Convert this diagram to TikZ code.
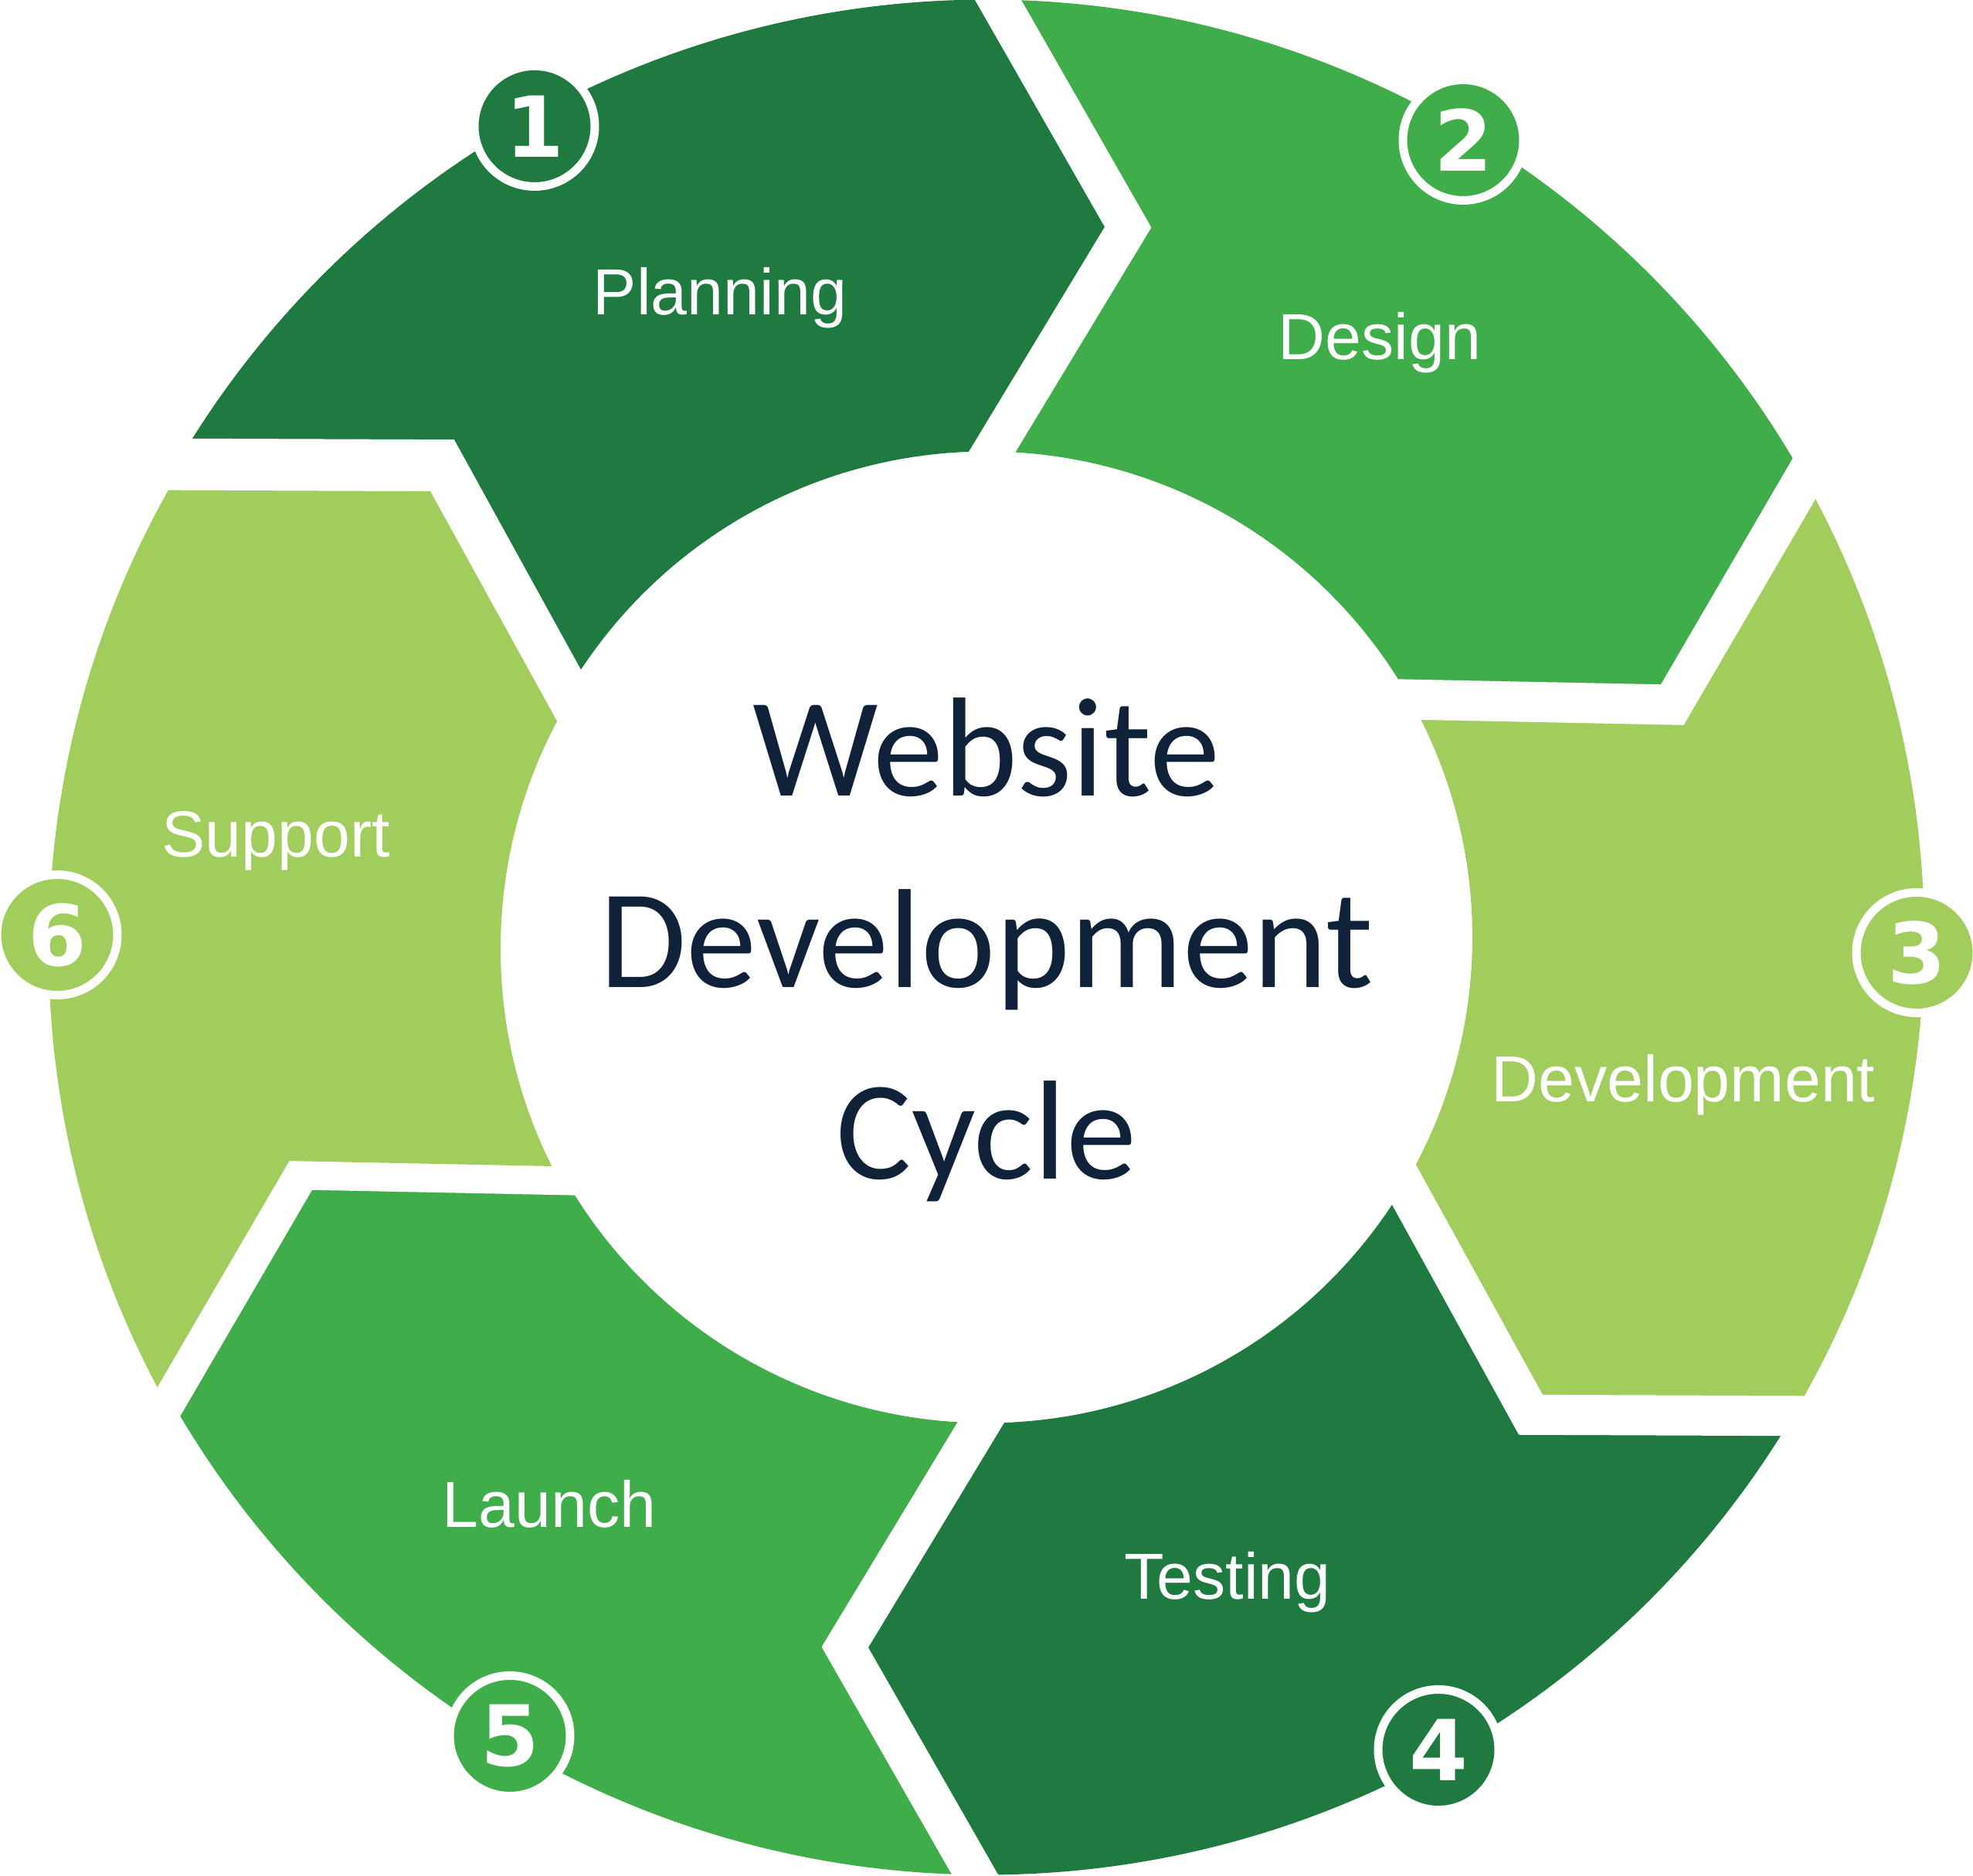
\documentclass[tikz,border=0pt]{standalone}
\usepackage{fontspec}
\setmainfont{Liberation Sans}
\newfontfamily\titlefont{Carlito}
\newfontfamily\numfont{DejaVu Sans}
\usetikzlibrary{calc}

\definecolor{plangreen}{RGB}{31,122,64}
\definecolor{designgreen}{RGB}{63,174,74}
\definecolor{devgreen}{RGB}{161,205,92}
\definecolor{titleblue}{RGB}{15,34,58}

\begin{document}
\begin{tikzpicture}[
    stage/.style={text=white, anchor=base, font=\fontsize{24pt}{28pt}\selectfont},
    headline/.style={text=titleblue, anchor=base, font=\titlefont\fontsize{52pt}{60pt}\selectfont},
    badge/.style={circle, draw=white, line width=1.1mm, minimum size=15.6mm, inner sep=0pt,
        text=white, font=\numfont\bfseries\fontsize{31pt}{36pt}\selectfont},
    gap/.style={draw=white, line width=5.2mm, miter limit=10}]
\useasboundingbox (-12.77,-12.155) rectangle (12.77,12.135);

% outer point, tip and inner point of the six borders
\coordinate (o1) at (149.3:12.14); \coordinate (t1) at ($(149.3:9.215)+(59.3:1.72)$);   \coordinate (i1) at (149.3:6.29);
\coordinate (o2) at (89.3:12.14);  \coordinate (t2) at ($(89.3:9.215)+(-0.7:1.72)$);    \coordinate (i2) at (89.3:6.29);
\coordinate (o3) at (29.3:12.14);  \coordinate (t3) at ($(29.3:9.215)+(-60.7:1.72)$);   \coordinate (i3) at (29.3:6.29);
\coordinate (o4) at (-30.7:12.14); \coordinate (t4) at ($(-30.7:9.215)+(-120.7:1.72)$); \coordinate (i4) at (-30.7:6.29);
\coordinate (o5) at (-90.7:12.14); \coordinate (t5) at ($(-90.7:9.215)+(-180.7:1.72)$); \coordinate (i5) at (-90.7:6.29);
\coordinate (o6) at (-150.7:12.14);\coordinate (t6) at ($(-150.7:9.215)+(119.3:1.72)$); \coordinate (i6) at (-150.7:6.29);

% the stages of the ring
\fill[plangreen]   (o1) arc[start angle=149.3, end angle=89.3, radius=12.14] -- (t2) -- (i2)
    arc[start angle=89.3, end angle=149.3, radius=6.29] -- (t1) -- cycle;    % planning
\fill[designgreen] (o2) arc[start angle=89.3, end angle=29.3, radius=12.14] -- (t3) -- (i3)
    arc[start angle=29.3, end angle=89.3, radius=6.29] -- (t2) -- cycle;     % design
\fill[devgreen]    (o3) arc[start angle=29.3, end angle=-30.7, radius=12.14] -- (t4) -- (i4)
    arc[start angle=-30.7, end angle=29.3, radius=6.29] -- (t3) -- cycle;    % development
\fill[plangreen]   (o4) arc[start angle=-30.7, end angle=-90.7, radius=12.14] -- (t5) -- (i5)
    arc[start angle=-90.7, end angle=-30.7, radius=6.29] -- (t4) -- cycle;   % testing
\fill[designgreen] (o5) arc[start angle=-90.7, end angle=-150.7, radius=12.14] -- (t6) -- (i6)
    arc[start angle=-150.7, end angle=-90.7, radius=6.29] -- (t5) -- cycle;  % launch

% white gaps between the stages
\draw[gap] ($(t1)!1.2!(o1)$) -- (t1) -- ($(t1)!1.2!(i1)$);
\draw[gap] ($(t2)!1.2!(o2)$) -- (t2) -- ($(t2)!1.2!(i2)$);
\draw[gap] ($(t3)!1.2!(o3)$) -- (t3) -- ($(t3)!1.2!(i3)$);
\draw[gap] ($(t4)!1.2!(o4)$) -- (t4) -- ($(t4)!1.2!(i4)$);
\draw[gap] ($(t5)!1.2!(o5)$) -- (t5) -- ($(t5)!1.2!(i5)$);
\draw[gap] ($(t6)!1.2!(o6)$) -- (t6) -- ($(t6)!1.2!(i6)$);

% support sits a little lower, so its edges are drawn on their own
\coordinate (s1o) at ($(t1)!1.5!(o1)+(239.3:0.302)+(0,-0.15)$);
\coordinate (s1t) at ($(t1)+(239.3:0.302)+(0,-0.15)$);
\coordinate (s1i) at ($(t1)!1.5!(i1)+(239.3:0.302)+(0,-0.15)$);
\coordinate (s6o) at ($(t6)!1.5!(o6)+(119.3:0.302)+(0,-0.15)$);
\coordinate (s6t) at ($(t6)+(119.3:0.302)+(0,-0.15)$);
\coordinate (s6i) at ($(t6)!1.5!(i6)+(119.3:0.302)+(0,-0.15)$);
\begin{scope}[even odd rule]
\clip (0,-0.15) circle[radius=12.14] (0,-0.15) circle[radius=6.29];
\fill[devgreen] (s1o) -- (s1t) -- (s1i) -- (s6i) -- (s6t) -- (s6o) -- (180:15) -- cycle; % support
\end{scope}

% stage names
\node[stage] (planning)    at (-3.45,8.06)  {Planning};
\node[stage] (design)      at (5.09,7.48)   {Design};
\node[stage] (development) at (9.02,-2.13)  {Development};
\node[stage] (testing)     at (3.12,-8.57)  {Testing};
\node[stage] (launch)      at (-5.66,-7.64) {Launch};
\node[stage] (support)     at (-9.20,1.04)  {Support};

% title in the middle
\node[headline] (website)  at (0,1.825)  {Website};
\node[headline] (devtitle) at (0,-0.65)  {Development};
\node[headline] (cycle)    at (0,-3.13)  {Cycle};

% numbered badges
\node[badge, fill=plangreen]   (n1) at (-5.85,10.50)  {1};
\node[badge, fill=designgreen] (n2) at (6.17,10.32)   {2};
\node[badge, fill=devgreen]    (n3) at (12.04,-0.20)  {3};
\node[badge, fill=plangreen]   (n4) at (5.85,-10.52)  {4};
\node[badge, fill=designgreen] (n5) at (-6.17,-10.34) {5};
\node[badge, fill=devgreen]    (n6) at (-12.03,0.03)  {6};

\end{tikzpicture}
\end{document}
